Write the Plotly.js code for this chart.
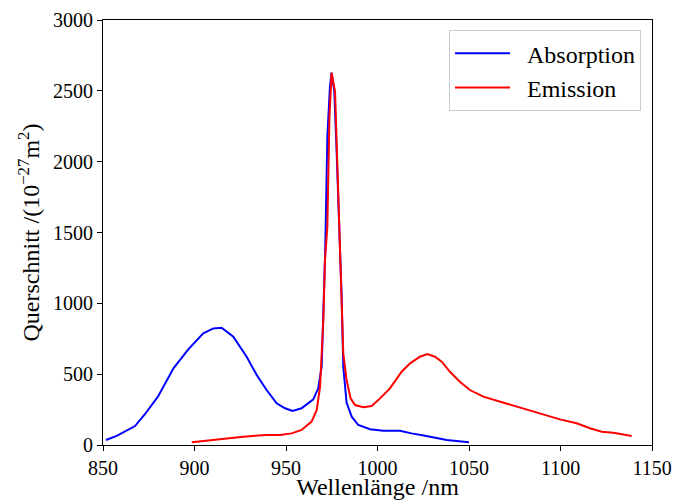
<!DOCTYPE html>
<html>
<head>
<meta charset="utf-8">
<script src="https://cdn.plot.ly/plotly-3.0.1.min.js"></script>
<style>html,body{margin:0;padding:0;background:#fff;}#chart{width:674px;height:500px;}</style>
</head>
<body>
<div id="chart"></div>
<script>
const absWavelength = [851.6, 857.5, 867.5, 873, 880, 888.5, 896.6, 904.8, 910.3, 914.8, 921.2, 928.5, 934, 939.4, 944.9, 949.5, 953.6, 958.5, 964.9, 967.6, 969.5, 970.4, 971.4, 972.6, 974, 974.9, 976.4, 977.7, 979.1, 980.4, 981.3, 983.1, 985.9, 989.5, 995.9, 1003.2, 1012.3, 1018.6, 1026, 1031.4, 1037.8, 1050];
const absValues = [35, 64, 134, 219, 341, 541, 675, 788, 823, 828, 764, 623, 494, 388, 294, 259, 240, 259, 322, 400, 553, 1000, 1355, 2176, 2529, 2628, 2494, 2059, 1541, 1047, 553, 300, 200, 141, 111, 101, 101, 82, 66, 52, 35, 19];

const emWavelength = [898.5, 912.1, 926.7, 939.4, 946.7, 953.1, 958.5, 964, 966.8, 968.6, 970.4, 971.3, 972.6, 973.7, 974.9, 976.8, 978.6, 979.9, 981.3, 983.1, 985.3, 987.7, 992.3, 996.8, 1001.4, 1006.8, 1013.2, 1017.8, 1023.2, 1027.2, 1031.4, 1035.1, 1039.6, 1045, 1050.5, 1057.8, 1065, 1073.3, 1081.5, 1090.6, 1099.7, 1108.8, 1116.1, 1122.5, 1128.9, 1138.9];
const emValues = [19, 40, 59, 71, 71, 82, 106, 165, 247, 411, 882, 1306, 1541, 2294, 2628, 2494, 1682, 1117, 647, 459, 329, 282, 266, 275, 329, 400, 517, 576, 623, 642, 623, 588, 517, 447, 388, 341, 313, 282, 247, 212, 181, 153, 118, 94, 87, 64];

const seriesNames = ["Absorption", "Emission"];
const xTicks = [850, 900, 950, 1000, 1050, 1100, 1150];
const yTicks = [0, 500, 1000, 1500, 2000, 2500, 3000];

const font = "Liberation Serif";

const traces = [
  {x: absWavelength, y: absValues, name: "&nbsp;&nbsp;" + seriesNames[0], mode: "lines", line: {color: "#0000ff", width: 2}},
  {x: emWavelength, y: emValues, name: "&nbsp;&nbsp;" + seriesNames[1], mode: "lines", line: {color: "#ff0000", width: 2}}
];

const axisCommon = {
  showgrid: false, zeroline: false, showline: true, mirror: true,
  linecolor: "#000", linewidth: 1, ticks: "outside", ticklen: 5, tickwidth: 1, tickcolor: "#000",
  tickfont: {family: font, size: 20, color: "#000"}
};

const layout = {
  width: 674, height: 500,
  margin: {l: 103, r: 22, t: 20, b: 55},
  paper_bgcolor: "#fff", plot_bgcolor: "#fff",
  font: {family: font, color: "#000"},
  showlegend: true,
  legend: {
    x: 0.980, y: 0.976, xanchor: "right", yanchor: "top",
    bordercolor: "#cccccc", borderwidth: 1, bgcolor: "rgba(255,255,255,0.8)",
    font: {family: font, size: 24, color: "#000"}, itemwidth: 55, tracegroupgap: 0
  },
  xaxis: Object.assign({}, axisCommon, {
    range: [850, 1150], tickvals: xTicks, ticktext: xTicks.map(String),
    title: {text: "Wellenlänge /nm", font: {family: font, size: 24, color: "#000"}, standoff: 7}
  }),
  yaxis: Object.assign({}, axisCommon, {
    range: [0, 3000], tickvals: yTicks, ticktext: yTicks.map(String),
    title: {text: "Querschnitt /(10<sup>−27</sup>m<sup>2</sup>)", font: {family: font, size: 24, color: "#000"}, standoff: 6}
  })
};

Plotly.newPlot("chart", traces, layout, {staticPlot: true, displayModeBar: false});
</script>
</body>
</html>
